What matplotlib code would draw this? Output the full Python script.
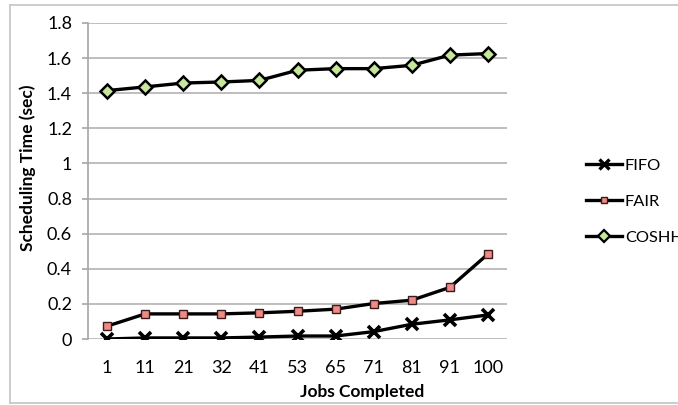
import matplotlib
matplotlib.use("Agg")
import matplotlib.pyplot as plt
from matplotlib.lines import Line2D

plt.rcParams['font.family'] = ['Lato', 'DejaVu Sans']

jobs = ["1", "11", "21", "32", "41", "53", "65", "71", "81", "91", "100"]
fifo = [0.0, 0.006, 0.006, 0.006, 0.011, 0.017, 0.017, 0.042, 0.084, 0.109, 0.137]
fair = [0.073, 0.143, 0.143, 0.143, 0.149, 0.158, 0.170, 0.202, 0.221, 0.294, 0.484]
coshh = [1.415, 1.436, 1.458, 1.464, 1.473, 1.531, 1.540, 1.540, 1.559, 1.617, 1.626]
yticks = [0, 0.2, 0.4, 0.6, 0.8, 1, 1.2, 1.4, 1.6, 1.8]
ytick_labels = ["0", "0.2", "0.4", "0.6", "0.8", "1", "1.2", "1.4", "1.6", "1.8"]

W, H = 678, 405
fig = plt.figure(figsize=(W / 100, H / 100), dpi=100)
ax = fig.add_axes([88 / W, 1 - 339 / H, (507 - 88) / W, (339 - 23) / H])

x = list(range(len(jobs)))
lw = 2.4
ax.plot(x, fifo, color='black', lw=lw, marker='x', ms=8, mew=2.6,
        mec='black', label='FIFO', zorder=4)
ax.plot(x, fair, color='black', lw=lw, marker='s', ms=5.5, mew=1.0,
        mfc='#f08a84', mec='#3a1a1a', label='FAIR', zorder=4)
ax.plot(x, coshh, color='black', lw=lw, marker='D', ms=7, mew=1.8,
        mfc='#c6e69c', mec='black', label='COSHH', zorder=4)

ax.set_xlim(-0.5, len(jobs) - 0.5)
ax.set_ylim(0, 1.8)
ax.set_xticks(x)
ax.set_xticklabels(jobs)
ax.set_yticks(yticks)
ax.set_yticklabels(ytick_labels)

ax.grid(axis='y', color='#b3b3b3', lw=1.2)
ax.set_axisbelow(True)
for s in ['top', 'right', 'bottom']:
    ax.spines[s].set_visible(False)
ax.spines['left'].set_color('#a6a6a6')
ax.spines['left'].set_linewidth(1.2)

ax.tick_params(axis='y', length=4.5, width=1.2, color='#a6a6a6', pad=7,
               labelsize=13)
ax.tick_params(axis='x', length=0, pad=15, labelsize=13)

ax.set_xlabel('Jobs Completed', fontsize=12.5, fontweight='bold')
ax.xaxis.set_label_coords(0.654, -0.142)
ax.set_ylabel('Scheduling Time (sec)', fontsize=12.5, fontweight='bold')
ax.yaxis.set_label_coords(-0.124, 0.541)

handles = [
    Line2D([], [], color='black', lw=lw, marker='x', ms=7, mew=2.4),
    Line2D([], [], color='black', lw=lw, marker='s', ms=5, mew=1.0,
           mfc='#f08a84', mec='#3a1a1a'),
    Line2D([], [], color='black', lw=lw, marker='D', ms=6, mew=1.6,
           mfc='#c6e69c', mec='black'),
]
fig.legend(handles, ['FIFO', 'FAIR', 'COSHH'], loc='upper left',
           bbox_to_anchor=(579 / W, 1 - 152 / H), frameon=False,
           fontsize=11.8, handlelength=2.2, handletextpad=0.2,
           labelspacing=1.3, borderaxespad=0)

# outer chart frame
fig.add_artist(Line2D([10 / W, 1], [1 - 4.5 / H, 1 - 4.5 / H],
                      color='#c8c8c8', lw=1.3))
fig.add_artist(Line2D([10 / W, 1], [1 - 403 / H, 1 - 403 / H],
                      color='#c8c8c8', lw=1.3))
fig.add_artist(Line2D([10 / W, 10 / W], [1 - 4.5 / H, 1 - 403 / H],
                      color='#c8c8c8', lw=1.3))

fig.savefig('out.png', dpi=100)
